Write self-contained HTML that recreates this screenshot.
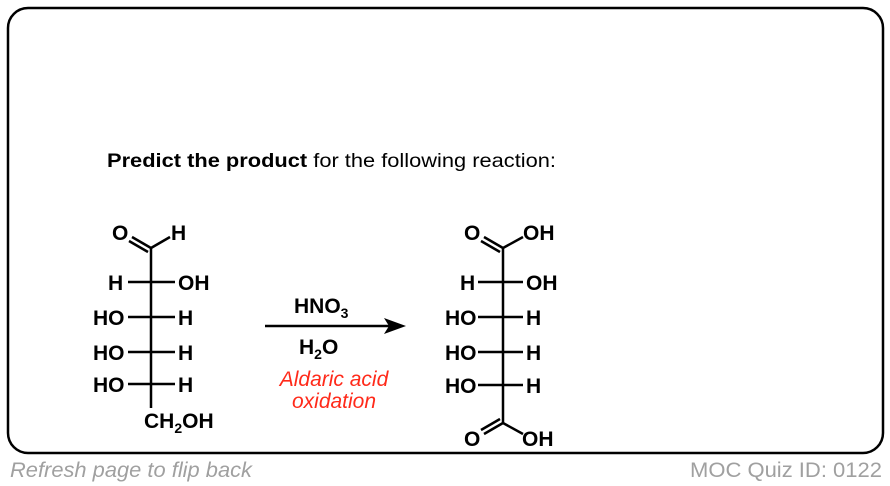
<!DOCTYPE html>
<html><head><meta charset="utf-8"><style>
body{margin:0;width:890px;height:486px;background:#fff;overflow:hidden;font-family:"Liberation Sans",Arial,sans-serif;}
</style></head><body>
<svg width="890" height="486" viewBox="0 0 890 486" xmlns="http://www.w3.org/2000/svg" style="position:absolute;left:0;top:0">
<rect x="8" y="8" width="875" height="445" rx="20" ry="20" fill="#fff" stroke="#000" stroke-width="2.5"/>
<text x="107" y="167" font-size="19.5" font-family="Liberation Sans, sans-serif" textLength="449" lengthAdjust="spacingAndGlyphs"><tspan font-weight="bold">Predict the product</tspan> for the following reaction:</text>

<g stroke="#000" stroke-width="2.5" fill="none">
<line x1="151" y1="248" x2="151" y2="408"/>
<line x1="151" y1="248" x2="170" y2="237"/>
<line x1="151" y1="248" x2="132" y2="237"/>
<line x1="148" y1="252" x2="129" y2="241"/>
<line x1="128" y1="282" x2="175" y2="282"/>
<line x1="128" y1="317" x2="175" y2="317"/>
<line x1="128" y1="352" x2="175" y2="352"/>
<line x1="128" y1="384" x2="175" y2="384"/>
<line x1="503" y1="248" x2="503" y2="423"/>
<line x1="503" y1="248" x2="523" y2="237"/>
<line x1="503" y1="248" x2="484" y2="237"/>
<line x1="500" y1="252" x2="481" y2="241"/>
<line x1="478" y1="282" x2="523" y2="282"/>
<line x1="478" y1="317" x2="523" y2="317"/>
<line x1="478" y1="352" x2="523" y2="352"/>
<line x1="478" y1="385" x2="523" y2="385"/>
<line x1="503" y1="423" x2="523" y2="434"/>
<line x1="503" y1="423" x2="484" y2="434"/>
<line x1="500" y1="419" x2="481" y2="430"/>
<line x1="265" y1="326" x2="390" y2="326"/>
</g>
<polygon points="406,326 384,318 389,326 384,334" fill="#000"/>

<g font-size="21" font-weight="bold" font-family="Liberation Sans, sans-serif" fill="#000">
<text x="112" y="240">O</text>
<text x="171" y="240">H</text>
<text x="108" y="290">H</text>
<text x="178" y="290">OH</text>
<text x="93" y="325">HO</text>
<text x="178" y="325">H</text>
<text x="93" y="360">HO</text>
<text x="178" y="360">H</text>
<text x="93" y="392">HO</text>
<text x="178" y="392">H</text>
<text x="144" y="428">CH<tspan font-size="14" dy="5">2</tspan><tspan dy="-5">OH</tspan></text>

<text x="464" y="240">O</text>
<text x="523" y="240">OH</text>
<text x="460" y="290">H</text>
<text x="526" y="290">OH</text>
<text x="445" y="325">HO</text>
<text x="526" y="325">H</text>
<text x="445" y="360">HO</text>
<text x="526" y="360">H</text>
<text x="445" y="393">HO</text>
<text x="526" y="393">H</text>
<text x="464" y="446">O</text>
<text x="522" y="446">OH</text>

<text x="294" y="313">HNO<tspan font-size="14" dy="5">3</tspan></text>
<text x="299" y="354">H<tspan font-size="14" dy="5">2</tspan><tspan dy="-5">O</tspan></text>
</g>
<g font-size="21" font-style="italic" fill="#ff2a1a" font-family="Liberation Sans, sans-serif" text-anchor="middle">
<text x="334" y="386">Aldaric acid</text>
<text x="334" y="408">oxidation</text>
</g>
<text x="10" y="477" font-size="21" font-style="italic" fill="#a0a0a0" font-family="Liberation Sans, sans-serif" textLength="242" lengthAdjust="spacingAndGlyphs">Refresh page to flip back</text>
<text x="690" y="477" font-size="21" fill="#a0a0a0" font-family="Liberation Sans, sans-serif" textLength="192" lengthAdjust="spacingAndGlyphs">MOC Quiz ID: 0122</text>
</svg>
</body></html>
